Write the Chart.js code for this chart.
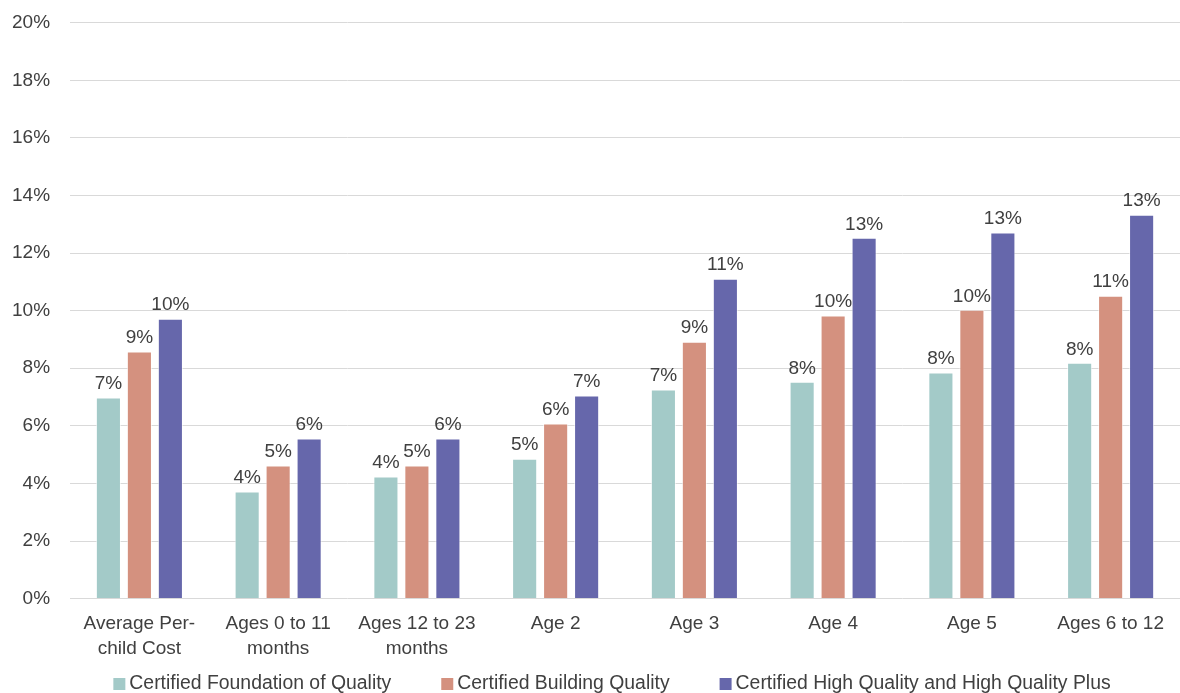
<!DOCTYPE html>
<html>
<head>
<meta charset="utf-8">
<script src="https://cdn.jsdelivr.net/npm/chart.js@4"></script>
<style>
  html, body { margin: 0; padding: 0; background: #fff; overflow: hidden; }
  #wrap { width: 1180px; height: 696px; margin-top: -3px; }
</style>
</head>
<body>
<div id="wrap"><canvas id="myChart"></canvas></div>
<script>
// datos
const categorias = [
  ["Average Per-", "child Cost"],
  ["Ages 0 to 11", "months"],
  ["Ages 12 to 23", "months"],
  "Age 2",
  "Age 3",
  "Age 4",
  "Age 5",
  "Ages 6 to 12"
];
const foundation = [6.98, 3.72, 4.24, 4.86, 7.26, 7.53, 7.85, 8.19];
const building = [8.58, 4.62, 4.62, 6.08, 8.92, 9.83, 10.03, 10.52];
const highQuality = [9.72, 5.56, 5.56, 7.05, 11.11, 12.53, 12.71, 13.33];
const serieNombres = ["Certified Foundation of Quality", "Certified Building Quality", "Certified High Quality and High Quality Plus"];
const colores = ["#a3cac8", "#d4917f", "#6667ab"];

const fuente = "'Liberation Sans', Arial, sans-serif";
const gris = "#404040";

// etiquetas arriba de cada barra
const etiquetas = {
  id: "etiquetas",
  afterDatasetsDraw(chart) {
    const ctx = chart.ctx;
    ctx.save();
    ctx.font = "19px " + fuente;
    ctx.fillStyle = gris;
    ctx.textAlign = "center";
    ctx.textBaseline = "bottom";
    chart.data.datasets.forEach((ds, i) => {
      chart.getDatasetMeta(i).data.forEach((bar, j) => {
        ctx.fillText(Math.round(ds.data[j]) + "%", bar.x, bar.y - 4);
      });
    });
    ctx.restore();
  }
};

// leyenda a mano (la de chart.js mete mucho padding vertical)
const leyenda = {
  id: "leyenda",
  afterDraw(chart) {
    const ctx = chart.ctx;
    ctx.save();
    ctx.font = "19.4px " + fuente;
    ctx.textBaseline = "middle";
    const caja = 12, sep = 4, hueco = 50;
    let anchos = serieNombres.map(n => caja + sep + ctx.measureText(n).width);
    let total = anchos.reduce((a, b) => a + b, 0) + hueco * (anchos.length - 1);
    let x = 612 - total / 2;
    const y = 687;
    serieNombres.forEach((n, i) => {
      ctx.fillStyle = colores[i];
      ctx.fillRect(x, y - caja / 2, caja, caja);
      ctx.fillStyle = gris;
      ctx.fillText(n, x + caja + sep, y);
      x += anchos[i] + hueco;
    });
    ctx.restore();
  }
};

let data = {
  labels: categorias,
  datasets: [foundation, building, highQuality].map((d, i) => ({
    label: serieNombres[i],
    data: d,
    backgroundColor: colores[i],
    borderColor: "rgba(255,255,255,0.6)",
    borderWidth: 1,
    categoryPercentage: 0.67,
    barPercentage: 0.81
  }))
};

let config = {
  type: "bar",
  data: data,
  options: {
    responsive: true,
    maintainAspectRatio: false,
    animation: false,
    layout: { padding: { left: -8, right: 0, top: 0, bottom: 27 } },
    scales: {
      x: {
        grid: { display: false },
        border: { display: false },
        ticks: { color: gris, font: { family: fuente, size: 19, lineHeight: 1.3 }, padding: 5, maxRotation: 0, autoSkip: false }
      },
      y: {
        min: 0,
        max: 20,
        grid: { color: "#d9d9d9", drawTicks: false, lineWidth: 1 },
        border: { display: false },
        ticks: {
          stepSize: 2,
          color: gris,
          font: { family: fuente, size: 19, lineHeight: 0.6 },
          padding: 20,
          callback: v => v + "%"
        }
      }
    },
    plugins: {
      legend: { display: false },
      tooltip: { enabled: false }
    }
  },
  plugins: [etiquetas, leyenda]
};

var myChart = new Chart(document.getElementById("myChart"), config);
</script>
</body>
</html>
